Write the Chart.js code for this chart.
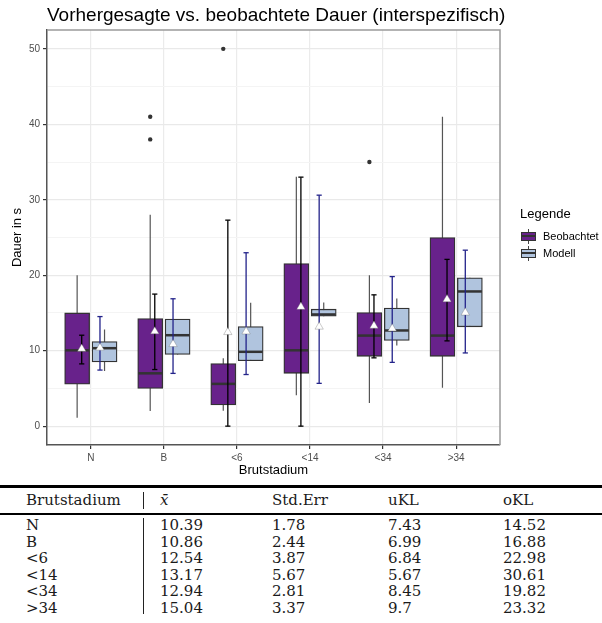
<!DOCTYPE html>
<html><head><meta charset="utf-8">
<script src="https://cdn.jsdelivr.net/npm/chart.js@4/dist/chart.umd.min.js"></script>
<style>
html,body{margin:0;padding:0;background:#fff;width:602px;height:623px;overflow:hidden;}
#wrap{position:relative;width:602px;height:623px;}
#c{position:absolute;left:0;top:0;}
.t{position:absolute;white-space:nowrap;}
#title{left:47px;top:4px;font-family:'Liberation Sans',Arial,sans-serif;font-size:19px;line-height:22px;color:#000;}
.lg{font-family:'Liberation Sans',Arial,sans-serif;color:#000;}
.key{position:absolute;width:17px;height:17px;}
.key .st{position:absolute;left:8px;top:1px;width:1px;height:15px;background:#444;}
.key .bx{position:absolute;left:1px;top:4px;width:13px;height:7px;border:1px solid #333;}
.key .md{position:absolute;left:1px;top:7.5px;width:15px;height:2px;background:#333;}
.tb{font-family:'DejaVu Serif','Liberation Serif',serif;font-size:15px;color:#1a1a1a;line-height:16px;}
.rule{position:absolute;left:0;width:602px;background:#000;}
.vbar{position:absolute;width:1px;background:#222;}
</style></head><body>
<div id="wrap">
<canvas id="c" width="602" height="480"></canvas>
<div id="title" class="t">Vorhergesagte vs. beobachtete Dauer (interspezifisch)</div>
<div id="legend"></div>
<div id="table"></div>
</div>
<script>
// ---- data ----
const categories = ['N', 'B', '<6', '<14', '<34', '>34'];
const yTicks = [0, 10, 20, 30, 40, 50];
const yMinorTicks = [5, 15, 25, 35, 45];

// Beobachtet boxplot
const obsLow  = [1.1, 2.0, 2.05, 4.1, 3.05, 5.1];
const obsQ1   = [5.55, 5.0, 2.8, 7.0, 9.25, 9.25];
const obsMed  = [10.05, 7.0, 5.6, 10.05, 12.0, 12.0];
const obsQ3   = [15.0, 14.25, 8.3, 21.55, 15.05, 25.0];
const obsHigh = [20.0, 28.0, 9.0, 33.05, 20.0, 41.0];
const outlierCat = [1, 1, 2, 4];
const outlierVal = [41, 38, 50, 35];
// Beobachtet mean + interval
const obsMean = [10.25, 12.55, 12.45, 15.8, 13.3, 16.8];
const obsCiLo = [8.25, 7.5, 0.0, 0.0, 9.05, 11.3];
const obsCiHi = [12.05, 17.5, 27.3, 33.0, 17.4, 22.1];

// Modell boxplot
const modLow  = [7.3, 9.5, 8.66, 14.57, 10.7, 13.16];
const modQ1   = [8.5, 9.5, 8.66, 14.57, 11.35, 13.16];
const modMed  = [10.33, 12.05, 9.85, 14.8, 12.68, 17.85];
const modQ3   = [11.2, 14.2, 13.2, 15.5, 15.65, 19.65];
const modHigh = [12.8, 14.2, 16.35, 16.4, 16.9, 19.65];
// Modell mean + interval (table values)
const modMean = [10.39, 10.86, 12.54, 13.17, 12.94, 15.04];
const stdErr  = [1.78, 2.44, 3.87, 5.67, 2.81, 3.37];
const modCiLo = [7.43, 6.99, 6.84, 5.67, 8.45, 9.7];
const modCiHi = [14.52, 16.88, 22.98, 30.61, 19.82, 23.32];

const seriesNames = ['Beobachtet', 'Modell'];
const tableHeader = ['Brutstadium', 'x\u0304', 'Std.Err', 'uKL', 'oKL'];

// ---- styling / layout ----
const OFF_BOX = 0.1875, OFF_ERR = 0.125;
const COL_OBS = '#68228B', COL_MOD = '#B0C4DE';
const ERR_OBS = '#000000', ERR_MOD = '#23238a';

function segs(off, lo, hi) {
  const out = [];
  categories.forEach((c, i) => {
    out.push({x: i + off, y: lo[i]}, {x: i + off, y: hi[i]}, {x: i + off, y: null});
  });
  return out;
}
function ends(off, lo, hi) {
  const out = [];
  categories.forEach((c, i) => { out.push({x: i + off, y: lo[i]}, {x: i + off, y: hi[i]}); });
  return out;
}
function pts(off, v) { return categories.map((c, i) => ({x: i + off, y: v[i]})); }

const boxOpts = {borderColor: '#333', borderWidth: 1.3, borderSkipped: false, grouped: false, maxBarThickness: 25, barPercentage: 1, categoryPercentage: 1, order: 19};

const datasets = [
  // whiskers
  {type: 'line', data: segs(-OFF_BOX, obsLow, obsHigh), borderColor: '#555', borderWidth: 1.2, pointRadius: 0, spanGaps: false, order: 20},
  {type: 'line', data: segs(OFF_BOX, modLow, modHigh), borderColor: '#555', borderWidth: 1.2, pointRadius: 0, spanGaps: false, order: 20},
  // boxes
  Object.assign({type: 'bar', data: categories.map((c, i) => ({x: i - OFF_BOX, y: [obsQ1[i], obsQ3[i]]})), backgroundColor: COL_OBS}, boxOpts),
  Object.assign({type: 'bar', data: categories.map((c, i) => ({x: i + OFF_BOX, y: [modQ1[i], modQ3[i]]})), backgroundColor: COL_MOD}, boxOpts),
  // medians
  {type: 'scatter', data: pts(-OFF_BOX, obsMed), pointStyle: 'line', pointRadius: 12, borderColor: '#333', borderWidth: 2.5, order: 18},
  {type: 'scatter', data: pts(OFF_BOX, modMed), pointStyle: 'line', pointRadius: 12, borderColor: '#333', borderWidth: 2.5, order: 18},
  // outliers
  {type: 'scatter', data: outlierCat.map((ci, k) => ({x: ci - OFF_BOX, y: outlierVal[k]})), pointStyle: 'circle', pointRadius: 2.2, backgroundColor: '#333', borderWidth: 0, order: 17},
  // error bars
  {type: 'line', data: segs(-OFF_ERR, obsCiLo, obsCiHi), borderColor: ERR_OBS, borderWidth: 1.3, pointRadius: 0, spanGaps: false, order: 16},
  {type: 'line', data: segs(OFF_ERR, modCiLo, modCiHi), borderColor: ERR_MOD, borderWidth: 1.3, pointRadius: 0, spanGaps: false, order: 16},
  {type: 'scatter', data: ends(-OFF_ERR, obsCiLo, obsCiHi), pointStyle: 'line', pointRadius: 2.6, borderColor: ERR_OBS, borderWidth: 1.3, order: 15},
  {type: 'scatter', data: ends(OFF_ERR, modCiLo, modCiHi), pointStyle: 'line', pointRadius: 2.6, borderColor: ERR_MOD, borderWidth: 1.3, order: 15},
  // means
  {type: 'scatter', data: pts(-OFF_ERR, obsMean), pointStyle: 'triangle', pointRadius: 4.8, backgroundColor: '#fff', borderColor: 'rgba(110,110,110,0.6)', borderWidth: 0.6, order: 14},
  {type: 'scatter', data: pts(OFF_ERR, modMean), pointStyle: 'triangle', pointRadius: 4.8, backgroundColor: '#fff', borderColor: 'rgba(110,110,110,0.6)', borderWidth: 0.6, order: 14}
];

const frame = {
  id: 'frame',
  afterDraw(chart) {
    const {ctx, chartArea: a} = chart;
    ctx.save();
    ctx.strokeStyle = '#9a9a9a';
    ctx.lineWidth = 1.5;
    ctx.beginPath();
    ctx.moveTo(a.left, a.top); ctx.lineTo(a.right, a.top); ctx.lineTo(a.right, a.bottom);
    ctx.stroke();
    ctx.restore();
  }
};

const allY = yTicks.concat(yMinorTicks).sort((a, b) => a - b);
const isMajor = v => yTicks.indexOf(v) >= 0;
const tickFont = {family: "'Liberation Sans', Arial, sans-serif", size: 10};
const titleFont = {family: "'Liberation Sans', Arial, sans-serif", size: 13};

new Chart(document.getElementById('c'), {
  type: 'bar',
  data: {datasets},
  options: {
    responsive: false,
    animation: false,
    events: [],
    devicePixelRatio: 1,
    layout: {padding: {top: 30, right: 102, left: 0, bottom: 0}},
    plugins: {legend: {display: false}, tooltip: {enabled: false}, title: {display: false}},
    scales: {
      x: {
        type: 'linear', min: -0.6, max: 5.6, offset: false,
        afterBuildTicks: s => { s.ticks = categories.map((c, i) => ({value: i})); },
        afterFit: s => { s.height = 35; },
        ticks: {callback: v => categories[v] !== undefined ? categories[v] : '', color: '#4d4d4d', font: tickFont, padding: 3, autoSkip: false, maxRotation: 0},
        grid: {color: '#ebebeb', lineWidth: 1.2, tickLength: 4, tickColor: '#333', offset: false},
        border: {color: '#555', width: 1.5},
        title: {display: true, text: 'Brutstadium', color: '#000', font: titleFont, padding: {top: 0, bottom: 2}}
      },
      y: {
        type: 'linear', min: -2.5, max: 52.5,
        afterBuildTicks: s => { s.ticks = allY.map(v => ({value: v})); },
        afterFit: s => { s.width = 47; },
        ticks: {callback: v => isMajor(v) ? String(v) : '', color: '#4d4d4d', font: tickFont, padding: 3},
        grid: {
          color: c => (c.tick && isMajor(c.tick.value)) ? '#e9e9e9' : '#f4f4f4',
          lineWidth: c => (c.tick && isMajor(c.tick.value)) ? 1.2 : 1,
          tickLength: 4,
          tickColor: c => (c.tick && isMajor(c.tick.value)) ? '#333' : 'rgba(0,0,0,0)'
        },
        border: {color: '#555', width: 1.5},
        title: {display: true, text: 'Dauer in s', color: '#000', font: titleFont, padding: {top: 10, bottom: 0}}
      }
    }
  },
  plugins: [frame]
});

// ---- legend (HTML) ----
(function () {
  const lg = document.getElementById('legend');
  const t = document.createElement('div');
  t.className = 't lg'; t.textContent = 'Legende';
  t.style.cssText = 'left:520px;top:206px;font-size:13px;line-height:16px;';
  lg.appendChild(t);
  const fills = [COL_OBS, COL_MOD];
  seriesNames.forEach((n, k) => {
    const cy = 236 + k * 17;
    const key = document.createElement('div');
    key.className = 'key';
    key.style.left = '520px'; key.style.top = (cy - 8.5) + 'px';
    key.innerHTML = '<div class="st"></div><div class="bx" style="background:' + fills[k] + '"></div><div class="md"></div>';
    lg.appendChild(key);
    const lab = document.createElement('div');
    lab.className = 't lg'; lab.textContent = n;
    lab.style.cssText = 'left:543px;top:' + (cy - 7) + 'px;font-size:11px;line-height:14px;';
    lg.appendChild(lab);
  });
})();

// ---- table (HTML) ----
(function () {
  const tb = document.getElementById('table');
  const colX = [26, 160, 272, 388, 503];
  const add = (html) => { const d = document.createElement('div'); d.innerHTML = html; tb.appendChild(d.firstChild); };
  add('<div class="rule" style="top:485px;height:2.5px;"></div>');
  add('<div class="rule" style="top:513px;height:1.5px;"></div>');
  add('<div class="vbar" style="left:143px;top:492px;height:17px;"></div>');
  add('<div class="vbar" style="left:143px;top:518px;height:96px;"></div>');
  tableHeader.forEach((h, j) => {
    const d = document.createElement('div');
    d.className = 't tb'; d.textContent = h;
    d.style.left = colX[j] + 'px'; d.style.top = '492px';
    if (j === 1) d.style.fontStyle = 'italic';
    tb.appendChild(d);
  });
  categories.forEach((c, i) => {
    const vals = [c, String(modMean[i]), String(stdErr[i]), String(modCiLo[i]), String(modCiHi[i])];
    vals.forEach((v, j) => {
      const d = document.createElement('div');
      d.className = 't tb'; d.textContent = v;
      d.style.left = colX[j] + 'px'; d.style.top = (517 + i * 16.6) + 'px';
      tb.appendChild(d);
    });
  });
})();
</script>
</body></html>
